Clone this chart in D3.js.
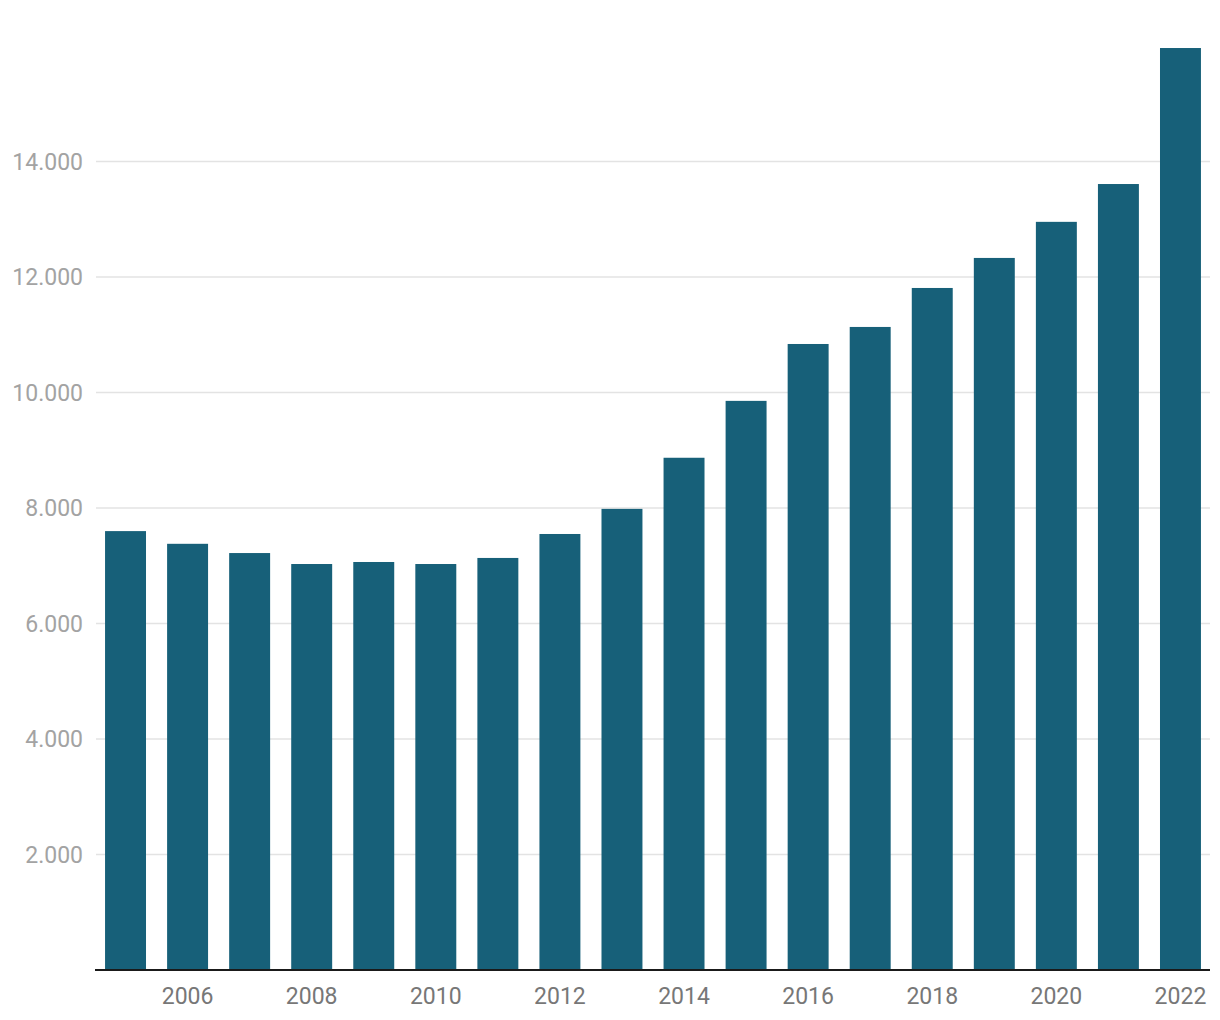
<!DOCTYPE html>
<html><head><meta charset="utf-8">
<script src="https://cdn.jsdelivr.net/npm/d3@7"></script>
<style>body{margin:0;background:#fff;}svg{display:block;font-family:Roboto,sans-serif;}</style>
</head><body><svg id="c" width="1220" height="1020"></svg>
<script>
const years = [2005,2006,2007,2008,2009,2010,2011,2012,2013,2014,2015,2016,2017,2018,2019,2020,2021,2022];
const values = [7600,7380,7220,7030,7065,7030,7135,7550,7985,8870,9855,10840,11135,11810,12330,12955,13610,15965];
const yTicks = [2000,4000,6000,8000,10000,12000,14000];
const xTickYears = [2006,2008,2010,2012,2014,2016,2018,2020,2022];

const svg = d3.select("#c");
const x = d3.scaleBand().domain(years).range([94.5,1211.5]).paddingInner(0.34).paddingOuter(0.17);
const y = d3.scaleLinear().domain([0,14000]).range([970,161.5]);
const fmt = v => d3.format(",")(v).replace(/,/g,".");

// gridlines
svg.append("g").selectAll("line").data(yTicks).join("line")
  .attr("x1",96).attr("x2",1210).attr("y1",d=>y(d)).attr("y2",d=>y(d))
  .attr("stroke","#e3e3e3").attr("stroke-width",1.5);
svg.append("g").selectAll("text").data(yTicks).join("text")
  .attr("x",83).attr("y",d=>y(d)).attr("dy","0.35em").attr("text-anchor","end")
  .attr("fill","#a3a3a3").attr("font-size",23).text(fmt);

// bars
svg.append("g").selectAll("rect").data(years).join("rect")
  .attr("x",d=>x(d)).attr("width",x.bandwidth())
  .attr("y",(d,i)=>y(values[i])).attr("height",(d,i)=>970-y(values[i]))
  .attr("fill","#176079");

// x axis
svg.append("line").attr("x1",95).attr("x2",1210).attr("y1",970).attr("y2",970)
  .attr("stroke","#1a1a1a").attr("stroke-width",2);
svg.append("g").selectAll("text").data(xTickYears).join("text")
  .attr("x",d=>x(d)+x.bandwidth()/2).attr("y",1004).attr("text-anchor","middle")
  .attr("fill","#777777").attr("font-size",23).text(d=>d);
</script></body></html>
